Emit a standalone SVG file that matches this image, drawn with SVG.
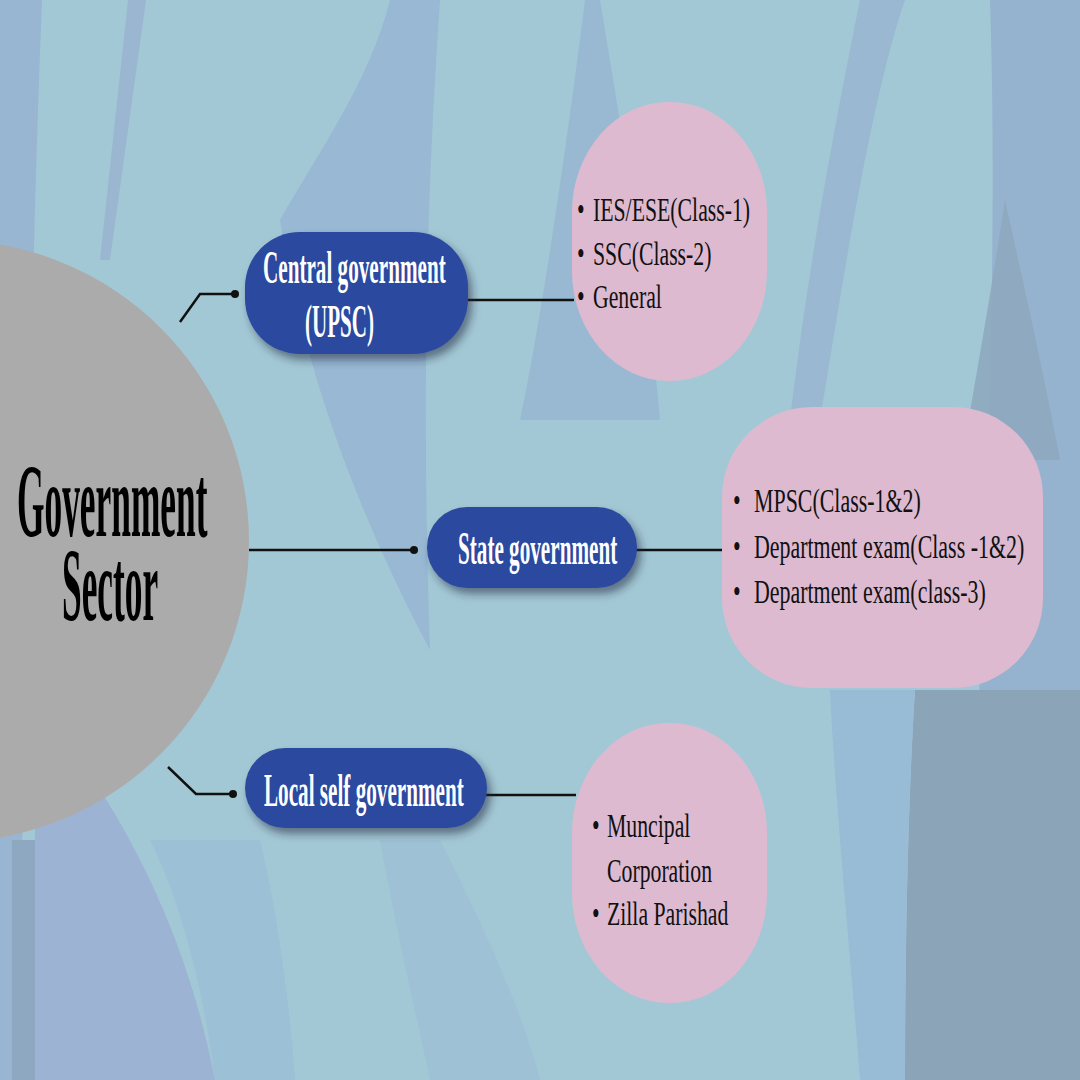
<svg xmlns="http://www.w3.org/2000/svg" width="1080" height="1080" viewBox="0 0 1080 1080">
<defs>
<filter id="sh" x="-20%" y="-20%" width="140%" height="150%">
<feDropShadow dx="4" dy="6" stdDeviation="4" flood-color="#1a2a40" flood-opacity="0.55"/>
</filter>
<style>
.pill{fill:#2b4a9f;filter:url(#sh)}
.pink{fill:#ddbad0}
.pt{font-family:"Liberation Serif","Times New Roman",serif;font-weight:bold;fill:#ffffff;font-size:46px}
.lt{font-family:"Liberation Serif","Times New Roman",serif;fill:#111111;font-size:34px}
.big{font-family:"Liberation Serif","Times New Roman",serif;font-weight:bold;fill:#000000;font-size:104px}
.ln{stroke:#111111;stroke-width:2.5;fill:none}
.dot{fill:#111111}
</style>
</defs>
<g id="background">
<rect width="1080" height="1080" fill="#a3c8d5"/>
<path d="M0 0 L42 0 C30 300 25 700 18 1080 L0 1080 Z" fill="#98b6d1"/>
<path d="M128 0 L146 0 L110 260 L100 260 Z" fill="#97b2cf" opacity="0.8"/>
<path d="M390 0 L440 0 C430 150 420 350 430 650 C350 500 300 350 280 220 C320 150 370 80 390 0 Z" fill="#97b5d2" opacity="0.85"/>
<path d="M585 0 L600 0 C620 120 650 300 660 420 L520 420 C545 300 570 120 585 0 Z" fill="#98b6d2" opacity="0.85"/>
<path d="M860 0 L905 0 C870 100 840 300 820 420 L790 420 C810 250 840 100 860 0 Z" fill="#97b4d0" opacity="0.8"/>
<path d="M990 0 L1080 0 L1080 1080 L960 1080 C980 700 1000 300 990 0 Z" fill="#95b3cf"/>
<path d="M1005 200 C990 300 975 380 962 460 L1060 460 C1045 380 1025 290 1005 200 Z" fill="#8da7bd" opacity="0.85"/>
<path d="M915 690 L1080 690 L1080 1080 L905 1080 C905 950 908 800 915 690 Z" fill="#8ba4b8"/>
<path d="M830 690 L915 690 C908 800 905 950 905 1080 L860 1080 C850 950 835 800 830 690 Z" fill="#98bbd6"/>
<path d="M12 840 L35 840 L35 1080 L12 1080 Z" fill="#8fa8c1"/>
<path d="M35 700 C100 780 180 900 215 1080 L35 1080 Z" fill="#9cb3d4"/>
<path d="M215 1080 C200 960 170 880 150 840 L260 840 C275 900 290 1000 295 1080 Z" fill="#9cc0d6"/>
<path d="M380 840 C400 950 420 1030 430 1080 L540 1080 C520 1000 470 900 440 840 Z" fill="#9cbfd5" opacity="0.8"/>
</g>
<g id="connectors">
<polyline class="ln" points="180,322 200,294 235,294"/>
<circle class="dot" cx="235" cy="294" r="4"/>
<line class="ln" x1="249" y1="550" x2="414" y2="550"/>
<circle class="dot" cx="414" cy="550" r="4"/>
<polyline class="ln" points="168,767 196,794 233,794"/>
<circle class="dot" cx="233" cy="794" r="4"/>
<line class="ln" x1="466" y1="300" x2="574" y2="300"/>
<line class="ln" x1="635" y1="550" x2="724" y2="550"/>
<line class="ln" x1="485" y1="795" x2="576" y2="795"/>
</g>
<g id="node-government-sector">
<circle cx="-52" cy="541" r="301" fill="#acabab"/>
<text class="big" transform="scale(0.34,1)"><tspan x="50" y="536">Government</tspan><tspan x="182.4" y="620">Sector</tspan></text>
</g>
<g id="node-central">
<rect class="pill" x="245" y="232" width="223" height="122" rx="55" ry="55"/>
<text class="pt" transform="translate(263,283) scale(0.46,1)">Central government</text>
<text class="pt" transform="translate(305,337) scale(0.458,1)">(UPSC)</text>
</g>
<g id="node-state">
<rect class="pill" x="427" y="507" width="210" height="81" rx="40" ry="40"/>
<text class="pt" transform="translate(458,564) scale(0.46,1)">State government</text>
</g>
<g id="node-local">
<rect class="pill" x="245" y="748" width="242" height="80" rx="40" ry="40"/>
<text class="pt" transform="translate(264,806) scale(0.46,1)">Local self government</text>
</g>
<g id="node-central-list">
<rect class="pink" x="572" y="102" width="195" height="279" rx="97" ry="110"/>
<text class="lt" transform="translate(577,221) scale(0.64,1)">•<tspan x="25">IES/ESE(Class-1)</tspan></text>
<text class="lt" transform="translate(577,265) scale(0.64,1)">•<tspan x="25">SSC(Class-2)</tspan></text>
<text class="lt" transform="translate(577,308) scale(0.64,1)">•<tspan x="25">General</tspan></text>
</g>
<g id="node-state-list">
<rect class="pink" x="722" y="407" width="321" height="281" rx="90" ry="90"/>
<text class="lt" transform="translate(733,512) scale(0.645,1)">•<tspan x="32.5">MPSC(Class-1&amp;2)</tspan></text>
<text class="lt" transform="translate(733,558) scale(0.645,1)">•<tspan x="32.5">Department exam(Class -1&amp;2)</tspan></text>
<text class="lt" transform="translate(733,603) scale(0.645,1)">•<tspan x="32.5">Department exam(class-3)</tspan></text>
</g>
<g id="node-local-list">
<rect class="pink" x="572" y="723" width="195" height="280" rx="97" ry="110"/>
<text class="lt" transform="translate(592,837) scale(0.64,1)">•<tspan x="23.4">Muncipal</tspan></text>
<text class="lt" transform="translate(607,882) scale(0.64,1)">Corporation</text>
<text class="lt" transform="translate(592,925) scale(0.64,1)">•<tspan x="23.4">Zilla Parishad</tspan></text>
</g>
</svg>
